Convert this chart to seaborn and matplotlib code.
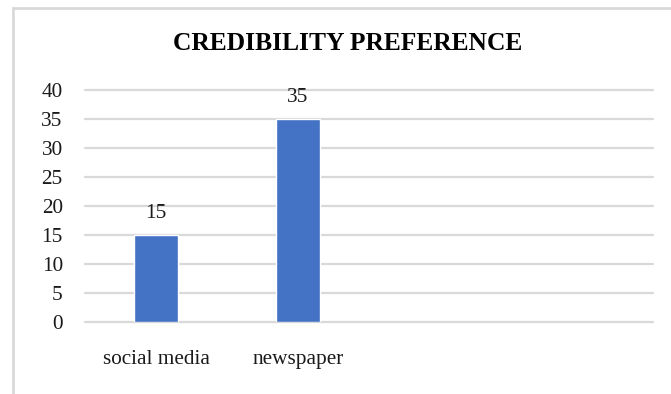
import matplotlib
matplotlib.use("Agg")
import matplotlib.pyplot as plt
import matplotlib.patches as mpatches
import seaborn as sns
import pandas as pd

categories = ["social media", "newspaper"]
values = [15, 35]
yticks = [0, 5, 10, 15, 20, 25, 30, 35, 40]
title = "CREDIBILITY PREFERENCE"

sns.set_theme(style="white")
plt.rcParams["font.family"] = ["Liberation Serif", "DejaVu Serif"]

W, H = 671, 394
fig = plt.figure(figsize=(W / 100, H / 100), dpi=100)

# chart-area frame
fig.patches.append(mpatches.Rectangle((13 / W, -0.05), 1.2, 1.05 - 8 / H,
                                      transform=fig.transFigure, fill=False,
                                      edgecolor="#d9d9d9", linewidth=2.0))

ax = fig.add_axes([85 / W, 1 - 322 / H, (653 - 85) / W, (322 - 90) / H])
df = pd.DataFrame({"category": categories, "value": values})
sns.barplot(data=df, x="category", y="value", color="#4472C4", width=0.313,
            saturation=1, ax=ax, zorder=3)
ax.set_xlim(-0.5, 3.5)
ax.set_ylim(0, 40)
ax.set_yticks(yticks)
ax.set_yticklabels([str(t) for t in yticks], fontsize=15.3, color="#1a1a1a")
ax.tick_params(axis="y", length=0, pad=16)
ax.tick_params(axis="x", length=0, pad=20, labelsize=15.3, labelcolor="#1a1a1a")
ax.set_xlabel("")
ax.set_ylabel("")
for s in ax.spines.values():
    s.set_visible(False)
ax.yaxis.grid(True, color="#d9d9d9", linewidth=1.6, zorder=0)
for gl in ax.get_ygridlines():
    gl.set_clip_on(False)

for i, v in enumerate(values):
    ax.text(i, v + 2.1, f"{v}", ha="center", va="bottom", fontsize=15.3,
            color="#1a1a1a")

fig.text(348 / W, 1 - 43 / H, title, ha="center", va="center",
         fontsize=18.4, fontweight="bold", color="black")

fig.savefig("out.png", dpi=100)
